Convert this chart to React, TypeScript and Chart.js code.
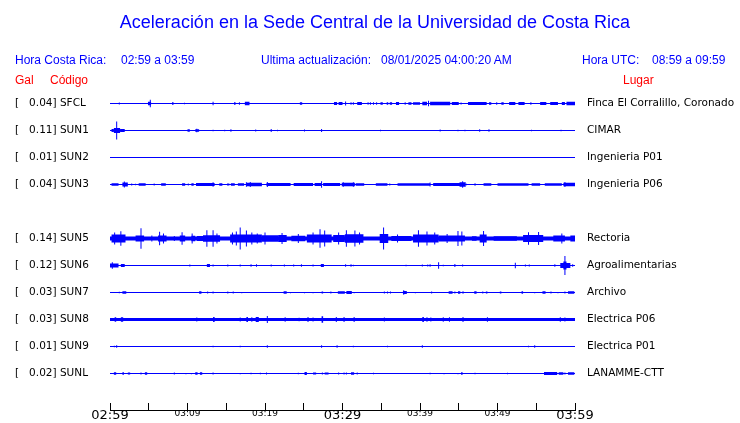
import React, { useEffect, useRef } from 'react';
import { Chart, registerables } from 'chart.js';

Chart.register(...registerables);

// ---------- data ----------
const TITLE = 'Aceleración en la Sede Central de la Universidad de Costa Rica';
const CR_LABEL = 'Hora Costa Rica:';
const CR_TIME = '02:59 a 03:59';
const UPDATED_LABEL = 'Ultima actualización:';
const UPDATED = '08/01/2025 04:00:20 AM';
const UTC_LABEL = 'Hora UTC:';
const UTC_TIME = '08:59 a 09:59';

const CODES = ['SFCL', 'SUN1', 'SUN2', 'SUN3', 'SUN4', 'SUN5', 'SUN6', 'SUN7', 'SUN8', 'SUN9', 'SUNL'];
const GAL: (number | null)[] = [0.04, 0.11, 0.01, 0.04, null, 0.14, 0.12, 0.03, 0.03, 0.01, 0.02];
const PLACES = [
  'Finca El Corralillo, Coronado', 'CIMAR', 'Ingenieria P01', 'Ingenieria P06', '',
  'Rectoria', 'Agroalimentarias', 'Archivo', 'Electrica P06', 'Electrica P01', 'LANAMME-CTT',
];

// minutes after 02:59
const TIME_TICKS = [0, 5, 10, 15, 20, 25, 30, 35, 40, 45, 50, 55, 60];
const TIME_LABELS = ['02:59', '', '03:09', '', '03:19', '', '03:29', '', '03:39', '', '03:49', '', '03:59'];
const MAJOR_LABELS = ['02:59', '03:29', '03:59'];

// background noise level of each trace (half amplitude, relative units)
const BASE_AMP: (number | null)[] = [0.5, 0.5, 0.5, 0.5, null, 2, 0.5, 0.5, 1.5, 0.5, 0.5];

// bursts: [start minute, end minute, half amplitude]
const SFCL = [
  [1.2, 1.2, 1], [4.9, 5.3, 1.7], [5.2, 5.2, 3.7], [8.0, 8.2, 1.3], [9.6, 9.6, 0.8], [13.3, 13.3, 1.7],
  [16.0, 16.2, 1.3], [16.7, 16.7, 1.3], [17.4, 18.0, 1.7], [24.5, 24.8, 1.3], [28.9, 29.3, 1.5], [29.5, 30.0, 1.5],
  [30.4, 30.4, 2], [31.1, 31.1, 1.3], [31.4, 31.4, 1.3], [31.9, 32.5, 1.5], [33.3, 33.3, 1.3], [33.6, 33.6, 1.3],
  [34.0, 34.0, 1.3], [34.4, 34.4, 1.3], [34.9, 35.2, 1.3], [35.7, 35.9, 1.3], [36.1, 36.4, 1.3], [36.9, 37.3, 1.5],
  [38.0, 38.2, 1], [38.5, 38.9, 1.3], [39.1, 40.0, 1.3], [40.3, 40.9, 1.7], [41.1, 41.1, 2.8], [41.3, 43.9, 1.7],
  [44.1, 45.0, 1.5], [45.3, 45.3, 1], [46.2, 48.6, 1.5], [48.9, 49.2, 1.3], [49.9, 49.9, 1.3], [50.5, 50.8, 1.3],
  [51.5, 52.3, 1.5], [52.7, 53.5, 1.5], [54.2, 54.4, 1], [55.5, 56.3, 1.5], [56.8, 57.8, 1.5], [58.3, 58.7, 1.5],
  [58.9, 60, 1.7],
];
const SUN1 = [
  [0.2, 0.5, 1.5], [0.5, 1.3, 2.5], [1.3, 1.9, 1.5], [0.86, 0.86, 9], [10.0, 10.3, 1.3], [11.0, 11.5, 1.3],
  [11.2, 11.2, 1.8], [13.3, 13.3, 0.8], [14.8, 14.8, 0.8], [15.5, 15.7, 1], [18.8, 18.8, 1], [20.8, 20.8, 1.5],
  [21.6, 21.6, 0.8], [25.1, 25.1, 1], [27.3, 27.3, 1.5], [34.9, 34.9, 0.8], [42.6, 42.6, 1], [44.9, 44.9, 0.8],
  [45.8, 45.8, 0.8], [47.7, 47.7, 1.3], [48.9, 48.9, 1.3], [54.4, 54.4, 0.8], [58.2, 58.2, 0.8],
];
const SUN2: number[][] = [];
const SUN3 = [
  [0.2, 1.1, 1.3], [1.6, 2.3, 2], [1.85, 1.85, 3], [2.8, 2.8, 1], [3.3, 3.3, 0.8], [3.7, 4.6, 1.3], [5.7, 5.7, 1],
  [6.6, 7.2, 1.3], [9.3, 9.7, 1.3], [10.1, 10.1, 1], [10.5, 10.8, 1.3], [11.1, 13.5, 1.5], [13.3, 13.3, 2.3],
  [14.1, 14.5, 1.3], [15.1, 15.4, 1], [15.6, 16.1, 1.3], [16.5, 17.3, 1.3], [17.6, 19.6, 1.7], [17.6, 17.6, 2.3],
  [18.1, 18.1, 2.5], [20.2, 23.3, 1.5], [20.3, 20.3, 2.5], [23.7, 26.2, 1.5], [26.4, 27.3, 1.5], [27.3, 27.3, 3.3],
  [27.5, 29.7, 1.5], [29.9, 31.6, 1.7], [30.1, 30.1, 2.3], [31.4, 31.4, 2.3], [31.7, 32.8, 1.3], [34.3, 35.8, 1.3],
  [36.1, 36.1, 1], [37.1, 41.3, 1.3], [41.3, 41.3, 2], [41.7, 45.3, 1.5], [45.1, 45.9, 2.3], [45.5, 45.5, 3.3],
  [46.0, 46.0, 0.8], [47.1, 47.1, 1.3], [48.2, 49.2, 1.3], [50.0, 54.0, 1.3], [54.4, 55.5, 1.3], [56.1, 58.3, 1.3],
  [58.5, 60, 1.7], [58.7, 58.7, 2.5],
];
const SUN4: number[][] | null = null;
const SUN5 = [
  [0.2, 2.0, 4], [0.6, 0.6, 6], [1.4, 1.4, 7.3], [3.3, 4.4, 3], [4.0, 4.0, 10.3], [5.4, 5.4, 3], [6.2, 7.3, 3],
  [6.4, 6.4, 6.7], [6.9, 6.9, 5], [8.3, 8.3, 2.5], [9.0, 9.7, 3], [9.3, 9.3, 6.3], [10.5, 11.0, 2.8], [10.6, 10.6, 5],
  [11.2, 12.0, 2.5], [12.0, 14.2, 3.3], [12.5, 12.5, 8.3], [13.3, 13.3, 8.3], [13.8, 13.8, 5], [15.5, 19.6, 4],
  [15.8, 15.8, 6], [16.3, 16.3, 7], [16.8, 16.8, 11], [17.6, 17.6, 8], [18.3, 18.3, 6], [19.0, 19.0, 5],
  [19.6, 21.7, 3.3], [20.0, 20.0, 6], [21.7, 22.8, 3.5], [22.2, 22.2, 5.5], [23.4, 25.2, 2.8], [24.3, 24.3, 4.5],
  [25.4, 28.6, 4], [26.2, 26.2, 6], [27.1, 27.1, 9.3], [27.7, 27.7, 8], [28.8, 30.3, 3.5], [29.5, 29.5, 6],
  [30.3, 32.7, 4.3], [30.5, 30.5, 8.3], [31.6, 31.6, 8], [32.2, 32.2, 6], [34.8, 35.9, 4.5], [35.3, 35.3, 11],
  [36.3, 38.9, 2.5], [37.1, 37.1, 4], [39.1, 42.4, 4], [39.8, 39.8, 8.3], [40.9, 40.9, 7], [41.9, 41.9, 6],
  [42.4, 45.8, 3], [43.5, 43.5, 4.5], [44.9, 44.9, 7.5], [45.4, 45.4, 7], [46.7, 47.3, 2.3], [47.7, 48.6, 4],
  [48.2, 48.2, 7.5], [49.5, 52.5, 2.3], [53.3, 55.9, 3.5], [54.0, 54.0, 6.3], [55.3, 55.3, 6.5], [57.2, 58.7, 3],
  [58.3, 58.3, 5], [59.4, 60, 3],
];
const SUN6 = [
  [0, 1.1, 2], [0.3, 0.3, 3.3], [1.4, 1.9, 1.5], [10.3, 10.3, 1], [12.5, 12.9, 1.5], [13.3, 13.3, 1], [15.2, 15.2, 1],
  [16.8, 16.8, 1], [18.2, 18.2, 1.3], [18.9, 18.9, 1.3], [20.8, 20.8, 1], [22.5, 22.5, 1], [23.7, 23.7, 1],
  [24.7, 24.7, 1.3], [26.2, 26.2, 1], [27.2, 27.6, 1.5], [30.4, 30.4, 1.3], [31.1, 31.1, 1.3], [31.4, 31.4, 0.8],
  [38.2, 38.2, 0.8], [40.3, 40.3, 1], [41.0, 41.0, 1], [41.3, 41.3, 1.3], [42.4, 42.4, 3.3], [43.0, 43.0, 0.8],
  [44.5, 44.5, 1.5], [45.5, 45.5, 1], [52.3, 52.3, 2.7], [53.6, 53.6, 1], [54.1, 54.1, 1], [57.4, 57.4, 1.3],
  [58.1, 59.4, 2.5], [58.5, 58.9, 4], [58.7, 58.7, 9.5], [59.7, 59.7, 1.3],
];
const SUN7 = [
  [1.2, 1.2, 0.8], [1.6, 2.1, 1.3], [11.5, 11.8, 1.3], [12.6, 12.6, 1], [13.3, 13.3, 1], [15.2, 15.2, 1],
  [15.9, 15.9, 1], [17.0, 17.0, 0.6], [22.4, 22.8, 1.3], [23.3, 23.3, 0.6], [25.1, 25.1, 0.6], [26.2, 26.2, 0.6],
  [27.3, 27.5, 1], [28.5, 28.5, 1], [29.4, 30.3, 1.3], [30.5, 31.2, 1.5], [31.5, 31.5, 0.6], [35.4, 35.4, 1],
  [35.8, 35.8, 1], [36.2, 36.2, 1], [37.8, 38.3, 1.5], [37.9, 37.9, 2.3], [39.4, 39.4, 0.6], [41.5, 41.5, 1],
  [43.7, 44.2, 1.3], [44.5, 44.5, 1], [44.9, 45.2, 1.3], [45.5, 45.6, 1.3], [47.0, 47.3, 1.3], [48.1, 48.1, 1],
  [48.5, 48.7, 1], [50.3, 50.5, 1], [53.1, 53.3, 1.3], [54.8, 54.8, 0.6], [55.8, 56.2, 1.3], [56.9, 56.9, 1],
  [57.8, 57.8, 0.6], [58.7, 58.7, 1], [59.1, 59.9, 1.3],
];
const SUN8 = [
  [0.6, 0.8, 2.3], [1.4, 1.7, 2.3], [11.2, 11.2, 2], [13.3, 13.5, 2.5], [16.8, 16.8, 2], [17.6, 17.8, 2.5],
  [18.3, 18.3, 2.3], [18.8, 19.2, 2.5], [20.3, 20.3, 3.5], [22.6, 22.6, 2.3], [24.4, 24.4, 1.8], [25.5, 25.6, 2.5],
  [26.2, 26.2, 2], [27.3, 27.5, 3.3], [29.2, 29.2, 2.5], [30.2, 30.2, 2.5], [31.5, 31.5, 2.5], [35.4, 35.4, 2],
  [40.3, 40.5, 2.5], [40.9, 40.9, 2.3], [41.4, 41.4, 2], [43.0, 43.0, 2.3], [43.8, 43.8, 2.3], [45.5, 45.6, 2.5],
  [48.7, 48.7, 2.3], [58.1, 58.1, 2.3], [58.7, 58.7, 2],
];
const SUN9 = [
  [0.56, 0.56, 0.8], [0.86, 0.86, 1.3], [13.3, 13.3, 0.8], [16.8, 16.8, 0.8], [20.3, 20.3, 1.3], [27.3, 27.3, 1.3],
  [29.3, 29.3, 1.3], [31.4, 31.4, 0.8], [35.8, 35.8, 0.8], [40.3, 40.3, 1.3], [54.0, 54.0, 0.8], [54.8, 54.8, 1.3],
];
const SUNL = [
  [0.5, 0.8, 1.3], [1.6, 1.8, 1.3], [2.3, 2.6, 1], [4.0, 4.0, 1], [4.5, 4.8, 1.3], [8.3, 8.3, 1], [9.8, 9.8, 0.6],
  [10.5, 10.5, 0.6], [11.0, 11.3, 1.3], [11.6, 11.9, 1.3], [13.3, 13.3, 1], [16.8, 16.8, 0.6], [18.2, 18.2, 0.8],
  [19.4, 19.4, 0.8], [20.2, 20.2, 1], [24.3, 24.3, 0.8], [25.1, 25.4, 1.5], [26.2, 26.6, 1], [27.4, 27.4, 1],
  [27.7, 28.2, 1], [29.5, 29.5, 1], [30.2, 30.2, 1], [30.5, 30.5, 1], [31.1, 31.5, 1.3], [31.9, 31.9, 1],
  [34.0, 34.0, 0.8], [41.3, 41.3, 0.8], [43.1, 43.1, 0.6], [44.9, 44.9, 0.6], [45.3, 45.5, 1.3], [47.1, 47.1, 0.8],
  [51.3, 51.3, 0.8], [56.0, 57.7, 1.5], [57.9, 58.5, 1.3], [58.7, 58.7, 1], [59.1, 59.9, 1.3],
];
const EVENTS = [SFCL, SUN1, SUN2, SUN3, SUN4, SUN5, SUN6, SUN7, SUN8, SUN9, SUNL];

// ---------- rendering helpers ----------
const BLUE = '#0000ff';
const RED = '#ff0000';
const AMP_TO_ROW = 1 / 27; // one amplitude unit in trace-spacing units
const MIN_SPAN = 0.13; // narrowest drawn burst, minutes

const ampTable: number[][] = [];
const datasets: any[] = [];
CODES.forEach((code, row) => {
  const base = BASE_AMP[row];
  const ev = EVENTS[row];
  if (base == null || ev == null) return;
  const pts: { x: number; y: number | null }[] = [
    { x: TIME_TICKS[0], y: row },
    { x: TIME_TICKS[TIME_TICKS.length - 1], y: row },
    { x: TIME_TICKS[TIME_TICKS.length - 1], y: null },
  ];
  const amps = [base, base, 0];
  for (const [s, e, a] of ev) {
    let x0 = s;
    let x1 = e;
    if (x1 - x0 < MIN_SPAN) {
      const c = (s + e) / 2;
      x0 = c - MIN_SPAN / 2;
      x1 = c + MIN_SPAN / 2;
    }
    pts.push({ x: x0, y: row }, { x: x1, y: row }, { x: x1, y: null });
    amps.push(a, a, 0);
  }
  ampTable.push(amps);
  datasets.push({
    label: code,
    data: pts,
    borderColor: BLUE,
    backgroundColor: BLUE,
    borderWidth: 1,
    borderCapStyle: 'butt',
    pointRadius: 0,
    spanGaps: false,
    fill: false,
    tension: 0,
    segment: {
      borderWidth: (ctx: any) => {
        const a = ampTable[ctx.datasetIndex][ctx.p0DataIndex] || 0;
        const ys = ctx.chart.scales.y;
        const px = Math.abs(ys.getPixelForValue(a * AMP_TO_ROW) - ys.getPixelForValue(0));
        return Math.max(1, 2 * px);
      },
    },
  });
});

const leftLabel = (v: number) => {
  const i = Math.round(v);
  const g = GAL[i];
  return g == null ? '' : `[   ${g.toFixed(2)}] ${CODES[i]}`;
};
const rightLabel = (v: number) => PLACES[Math.round(v)] || '';
const rowTicks = (s: any) => {
  s.ticks = CODES.map((_, i) => ({ value: i }));
};
const fixBox = (size: { width?: number; height?: number }) => (s: any) => {
  if (size.width != null) s.width = size.width;
  if (size.height != null) s.height = size.height;
  s.paddingTop = 0;
  s.paddingBottom = 0;
  s.paddingLeft = 0;
  s.paddingRight = 0;
};

export default function App() {
  const ref = useRef<HTMLCanvasElement>(null);

  useEffect(() => {
    const chart = new Chart(ref.current as HTMLCanvasElement, {
      type: 'line',
      data: { datasets },
      options: {
        animation: false,
        responsive: false,
        events: [],
        layout: { padding: { left: 15, right: 0, top: 76.5, bottom: 0 } },
        plugins: { legend: { display: false }, tooltip: { enabled: false } },
        scales: {
          x: {
            type: 'linear',
            position: 'bottom',
            min: TIME_TICKS[0],
            max: TIME_TICKS[TIME_TICKS.length - 1],
            afterBuildTicks: (s: any) => {
              s.ticks = TIME_TICKS.map((v) => ({ value: v }));
            },
            afterFit: fixBox({ height: 13 }),
            grid: { drawOnChartArea: false, drawTicks: true, tickLength: -7, color: '#000', tickWidth: 1 },
            border: { display: true, color: '#000', width: 1 },
            ticks: {
              autoSkip: false,
              maxRotation: 0,
              minRotation: 0,
              padding: 5,
              color: '#000',
              font: (c: any) => {
                const lbl = TIME_LABELS[TIME_TICKS.indexOf(c.tick ? c.tick.value : -1)] || '';
                return { family: 'DejaVu Sans', size: MAJOR_LABELS.includes(lbl) ? 13 : 9 };
              },
              callback: (v: any) => TIME_LABELS[TIME_TICKS.indexOf(Number(v))] || '',
            },
          },
          y: {
            type: 'linear',
            position: 'left',
            reverse: true,
            min: -1,
            max: 11.35,
            afterBuildTicks: rowTicks,
            afterFit: fixBox({ width: 95 }),
            grid: { display: false },
            border: { display: false },
            ticks: {
              autoSkip: false,
              crossAlign: 'far',
              padding: 0,
              color: '#000',
              font: { family: 'DejaVu Sans', size: 10.5 },
              callback: (v: any) => leftLabel(Number(v)),
            },
          },
          y2: {
            type: 'linear',
            position: 'right',
            reverse: true,
            min: -1,
            max: 11.35,
            afterBuildTicks: rowTicks,
            afterFit: fixBox({ width: 165 }),
            grid: { display: false, drawTicks: false },
            border: { display: false },
            ticks: {
              autoSkip: false,
              crossAlign: 'near',
              padding: 12,
              color: '#000',
              font: { family: 'DejaVu Sans', size: 10.5 },
              callback: (v: any) => rightLabel(Number(v)),
            },
          },
        },
      } as any,
    });
    return () => chart.destroy();
  }, []);

  const txt = (extra: React.CSSProperties): React.CSSProperties => ({
    position: 'absolute',
    fontFamily: '"Liberation Sans", Arial, sans-serif',
    fontSize: 12,
    lineHeight: 1,
    whiteSpace: 'pre',
    color: BLUE,
    ...extra,
  });

  return (
    <div style={{ position: 'absolute', left: 0, top: 0, width: 740, height: 423, background: '#fff', overflow: 'hidden' }}>
      <canvas ref={ref} width={740} height={423} style={{ position: 'absolute', left: 0, top: 0 }} />
      <div style={txt({ left: 0, top: 13, width: 750, textAlign: 'center', fontSize: 18 })}>{TITLE}</div>
      <span style={txt({ left: 15, top: 54 })}>{CR_LABEL}</span>
      <span style={txt({ left: 121, top: 54 })}>{CR_TIME}</span>
      <span style={txt({ left: 261, top: 54 })}>{UPDATED_LABEL}</span>
      <span style={txt({ left: 381, top: 54 })}>{UPDATED}</span>
      <span style={txt({ left: 582, top: 54 })}>{UTC_LABEL}</span>
      <span style={txt({ left: 652, top: 54 })}>{UTC_TIME}</span>
      <span style={txt({ left: 15, top: 74, color: RED })}>Gal</span>
      <span style={txt({ left: 50, top: 74, color: RED })}>Código</span>
      <span style={txt({ left: 623, top: 74, color: RED })}>Lugar</span>
    </div>
  );
}
